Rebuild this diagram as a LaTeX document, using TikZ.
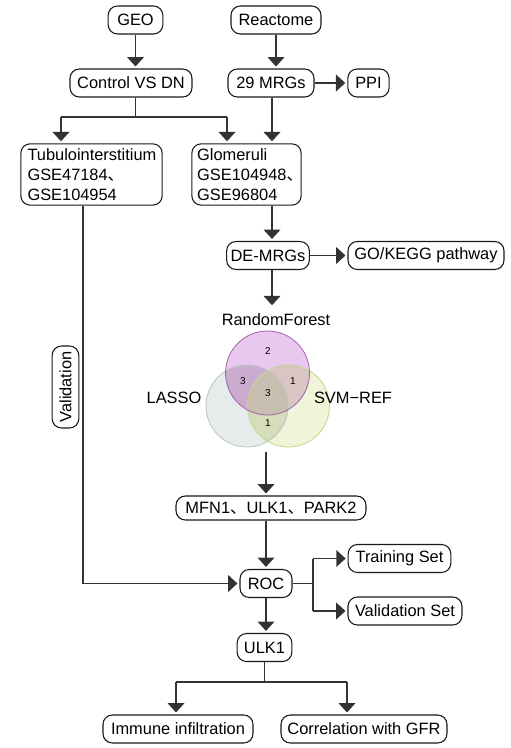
\documentclass[tikz,border=0pt]{standalone}
\usepackage{fontspec}
\setmainfont{Liberation Sans}
\newfontfamily\cjk{Noto Sans CJK SC}
\usetikzlibrary{arrows.meta,calc}
\definecolor{cL}{RGB}{230,235,236}
\definecolor{cS}{RGB}{238,245,216}
\definecolor{cR}{RGB}{232,200,238}
\definecolor{cRL}{RGB}{203,172,206}
\definecolor{cRS}{RGB}{217,197,193}
\definecolor{cLS}{RGB}{213,221,186}
\definecolor{cC}{RGB}{201,191,177}
\definecolor{bL}{RGB}{185,195,196}
\definecolor{bS}{RGB}{196,216,140}
\definecolor{bR}{RGB}{160,100,168}
\begin{document}
\begin{tikzpicture}[x=0.75pt,y=-0.75pt,
 box/.style={draw=black!90, line width=0.8pt, rounded corners=7pt, minimum height=21pt, inner xsep=3pt, inner ysep=2pt, font=\fontsize{12.3}{15}\selectfont, fill=white},
 conn/.style={draw=black!80, line width=1.1pt},
 arr/.style={conn, -{Triangle[width=12.5pt,length=7pt]}, shorten >=1.5pt},
 num/.style={font=\fontsize{7.5}{9}\selectfont},
 lbl/.style={font=\fontsize{12.3}{15}\selectfont}]
\useasboundingbox (0,0) rectangle (510,748);

% nodes
\node[box, minimum width=41pt] (geo) at (135.5,20) {GEO};
\node[box, minimum width=67.5pt] (react) at (276,20) {Reactome};
\node[box, minimum width=91.5pt] (ctrl) at (131,83) {Control VS DN};
\node[box, minimum width=64.5pt] (mrg) at (271,83) {29 MRGs};
\node[box, minimum width=31pt] (ppi) at (368.5,83) {PPI};
\node[box, minimum width=106pt, minimum height=46pt, align=left, text width=96pt] (tub) at (91.5,174.5) {Tubulointerstitium\\GSE47184{\cjk 、}\\GSE104954};
\node[box, minimum width=82pt, minimum height=46pt, align=left, text width=74pt] (glom) at (246.5,174.5) {Glomeruli\\GSE104948{\cjk 、}\\GSE96804};
\node[box, minimum width=61.5pt] (demrg) at (268,255.5) {DE-MRGs};
\node[box, minimum width=117pt] (kegg) at (426,255.5) {GO/KEGG pathway};
\node[box, minimum width=142.5pt, minimum height=18pt] (mfn) at (271,508) {MFN1{\cjk 、}ULK1{\cjk 、}PARK2};
\node[box, minimum width=39pt] (roc) at (266,583.5) {ROC};
\node[box, minimum width=77pt] (train) at (399.5,558.5) {Training Set};
\node[box, minimum width=85.5pt] (valset) at (405,611) {Validation Set};
\node[box, minimum width=41pt] (ulk) at (264.5,647.5) {ULK1};
\node[box, minimum width=112.5pt] (imm) at (178,729) {Immune infiltration};
\node[box, minimum width=124.5pt] (gfr) at (364,729) {Correlation with GFR};

% Venn diagram
\def\Lc{(247,406) circle (41)}
\def\Sc{(288.5,406) circle (41)}
\def\Rc{(267.5,373) circle (42)}
\fill[cL] \Lc;
\fill[cS] \Sc;
\fill[cR] \Rc;
\begin{scope}
 \clip \Lc;
 \fill[cRL] \Rc;
 \fill[cLS] \Sc;
\end{scope}
\begin{scope}
 \clip \Rc;
 \fill[cRS] \Sc;
 \clip \Lc;
 \fill[cC] \Sc;
\end{scope}
\draw[bL, line width=0.6pt] \Lc;
\draw[bS, line width=0.6pt] \Sc;
\draw[bR, line width=0.6pt] \Rc;
\node[num] (n2) at (268,351) {2};
\node[num] (n3a) at (243,381) {3};
\node[num] (n1a) at (293,381) {1};
\node[num] (n3b) at (268,393) {3};
\node[num] (n1b) at (268,423) {1};
\node[lbl] (rf) at (276,320) {RandomForest};
\node[lbl] (lasso) at (174,398) {LASSO};
\node[lbl] (svm) at (353,398) {SVM−REF};
\coordinate (vb) at (266,452);

% validation side box
\node[box, rotate=90, minimum width=61.5pt, minimum height=20pt, inner xsep=2pt] (valid) at (65.5,387) {Validation};

% connectors
\draw[arr] (geo) -- (geo |- ctrl.north);
\draw[arr] (react) -- (react |- mrg.north);
\draw[arr] (mrg) -- (ppi);
\coordinate (b1) at (61,117);
\coordinate (b2) at (227,117);
\draw[conn] (ctrl.south -| geo) -- (geo |- b1);
\draw[conn] (b1) -- (b2);
\draw[arr] (b1) -- (b1 |- tub.north);
\draw[arr] (b2) -- (b2 |- glom.north);
\draw[arr] ($(mrg.south)+(1,0)$) -- ($(mrg.south |- glom.north)+(1,0)$);
\draw[arr] ($(glom.south)+(25.5,0)$) -- ($(demrg.north)+(4,0)$);
\draw[arr] (demrg) -- (kegg);
\draw[arr] ($(demrg.south)+(4,0)$) -- ($(rf.north -| demrg)+(4,-2)$);
\draw[arr] (vb) -- (vb |- mfn.north);
\draw[arr] (mfn.south -| roc) -- (roc.north);
\draw[arr] ($(tub.south)+(-8.5,0)$) |- (roc.west);
\coordinate (br) at (313,583.5);
\draw[conn] (roc.east) -- (br);
\draw[conn] (br |- train) -- (br |- valset);
\draw[arr] (br |- train) -- (train.west);
\draw[arr] (br |- valset) -- (valset.west);
\draw[arr] (roc.south) -- (roc.south |- ulk.north);
\coordinate (u1) at (176,682);
\coordinate (u2) at (347,682);
\draw[conn] (ulk.south) -- (ulk.south |- u1);
\draw[conn] (u1) -- (u2);
\draw[arr] (u1) -- (u1 |- imm.north);
\draw[arr] (u2) -- (u2 |- gfr.north);
\end{tikzpicture}
\end{document}
